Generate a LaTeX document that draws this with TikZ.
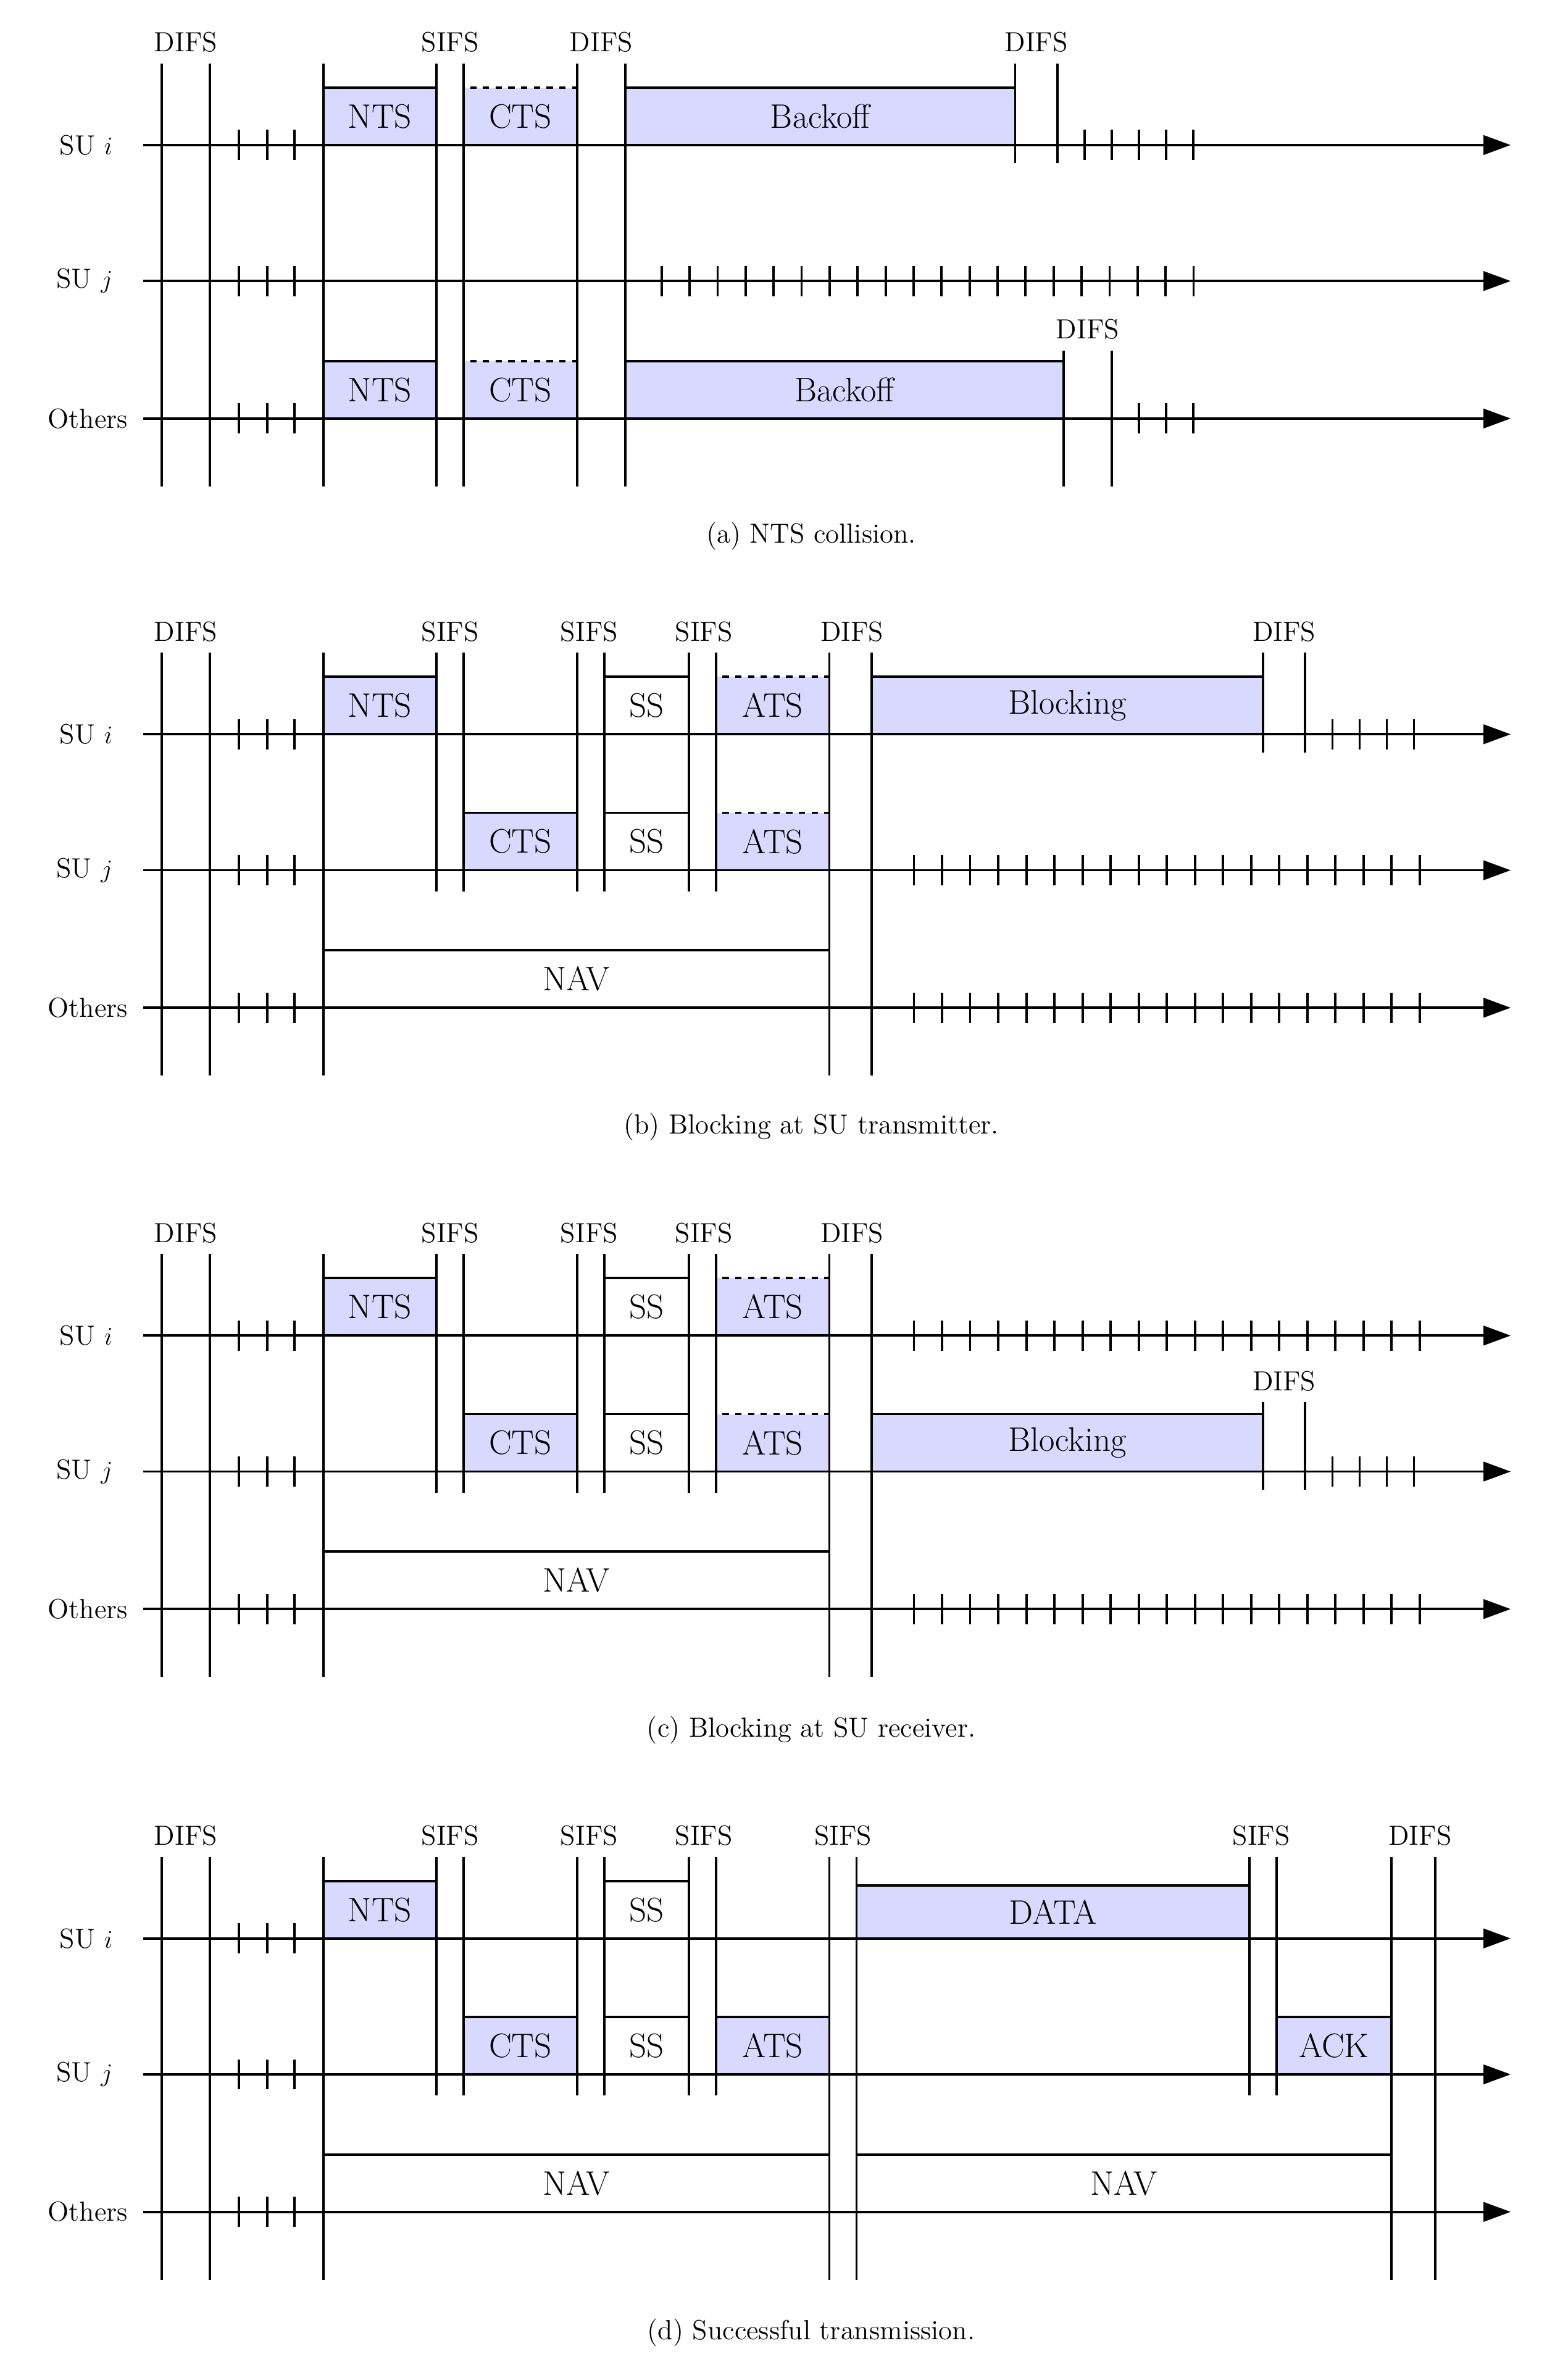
\documentclass[tikz,border=0pt]{standalone}
\usetikzlibrary{arrows.meta}
\definecolor{boxfill}{RGB}{217,217,255}
\begin{document}
\begin{tikzpicture}[x=0.025cm,y=-0.025cm,line width=1.1pt,
  ax/.style={-{Triangle[length=0.45cm,width=0.32cm]}},
  lab/.style={font=\fontsize{13}{15}\selectfont},
  capt/.style={font=\fontsize{13}{15}\selectfont},
  tx/.style={font=\fontsize{16}{18}\selectfont},
  fb/.style={draw,fill=boxfill},
  db/.style={draw,dashed,fill=boxfill},
  wb/.style={draw,fill=white}]
\useasboundingbox (0,0) rectangle (1024,1575.3);
\newcommand{\axes}{%
  \node[lab,anchor=east] (li) at (80,96) {SU $i$};
  \node[lab,anchor=east] (lj) at (80,186) {SU $j$};
  \node[lab,anchor=east] (lo) at (90,277) {Others};
  \draw[ax] (li.east) ++(15,0) coordinate (si) -- (1000,96);
  \draw[ax] (lj.east) ++(15,0) coordinate (sj) -- (1000,186);
  \draw[ax] (lo.east) ++(5,0) coordinate (so) -- (1000,277);
  \foreach \y in {96,186,277}{\foreach \t in {158,177,195}{\draw (\t,\y-10)--(\t,\y+10);}}
}
% ---------------- (a)
\begin{scope}
\draw[fb] (214,96) rectangle node[tx]{NTS} (289,58);
\draw[db] (307,96) rectangle node[tx]{CTS} (382,58);
\draw[fb] (414,96) rectangle node[tx]{Backoff} (672,58);
\draw[fb] (214,277) rectangle node[tx]{NTS} (289,239);
\draw[db] (307,277) rectangle node[tx]{CTS} (382,239);
\draw[fb] (414,277) rectangle node[tx]{Backoff} (704,239);
\axes
\foreach \x in {107,139,214,289,307,382,414}{\draw (\x,42)--(\x,322);}
\foreach \x in {672,700}{\draw (\x,42)--(\x,108);}
\foreach \x in {704,736}{\draw (\x,232)--(\x,322);}
\foreach \t in {718,736,754,772,790}{\draw (\t,86)--(\t,106);}
\foreach \i in {0,...,19}{\draw ({438+\i*18.53},176)--({438+\i*18.53},196);}
\foreach \t in {754,772,790}{\draw (\t,267)--(\t,287);}
\node[lab] (d1) at (123,28) {DIFS};
\node[lab] (s1) at (298,28) {SIFS};
\node[lab] (d2) at (398,28) {DIFS};
\node[lab] (d3) at (686,28) {DIFS};
\node[lab] (d4) at (720,218) {DIFS};
\node[capt] (ca) at (537,355) {(a) NTS collision.};
\end{scope}
% ---------------- (b) and (c)
\foreach \off/\p in {390/b,788/c}{
\begin{scope}[yshift=-\off*0.025cm]
\draw[fb] (214,96) rectangle node[tx]{NTS} (289,58);
\draw[wb] (400,96) rectangle node[tx]{SS} (456,58);
\draw[db] (474,96) rectangle node[tx]{ATS} (549,58);
\draw[fb] (307,186) rectangle node[tx]{CTS} (382,148);
\draw[wb] (400,186) rectangle node[tx]{SS} (456,148);
\draw[db] (474,186) rectangle node[tx]{ATS} (549,148);
\draw[wb] (214,277) rectangle node[tx]{NAV} (549,239);
\if\p b
  \draw[fb] (577,96) rectangle node[tx]{Blocking} (836,58);
\else
  \draw[fb] (577,186) rectangle node[tx]{Blocking} (836,148);
\fi
\axes
\foreach \x in {107,139,214,549,577}{\draw (\x,42)--(\x,322);}
\foreach \x in {289,307,382,400,456,474}{\draw (\x,42)--(\x,200);}
\foreach \i in {0,...,18}{\draw ({605+\i*18.6},267)--({605+\i*18.6},287);}
\node[lab] at (123,28) {DIFS};
\node[lab] at (298,28) {SIFS};
\node[lab] at (390,28) {SIFS};
\node[lab] at (466,28) {SIFS};
\node[lab] at (564,28) {DIFS};
\if\p b
  \foreach \x in {836,864}{\draw (\x,42)--(\x,108);}
  \foreach \t in {882,900,918,936}{\draw (\t,86)--(\t,106);}
  \foreach \i in {0,...,18}{\draw ({605+\i*18.6},176)--({605+\i*18.6},196);}
  \node[lab] at (850,28) {DIFS};
  \node[capt] at (537,356) {(b) Blocking at SU transmitter.};
\else
  \foreach \x in {836,864}{\draw (\x,140)--(\x,198);}
  \foreach \t in {882,900,918,936}{\draw (\t,176)--(\t,196);}
  \foreach \i in {0,...,18}{\draw ({605+\i*18.6},86)--({605+\i*18.6},106);}
  \node[lab] at (850,126) {DIFS};
  \node[capt] at (537,357) {(c) Blocking at SU receiver.};
\fi
\end{scope}}
% ---------------- (d)
\begin{scope}[yshift=-1187*0.025cm]
\draw[fb] (214,96) rectangle node[tx]{NTS} (289,58);
\draw[wb] (400,96) rectangle node[tx]{SS} (456,58);
\draw[fb] (567,96) rectangle node[tx]{DATA} (827,61);
\draw[fb] (307,186) rectangle node[tx]{CTS} (382,148);
\draw[wb] (400,186) rectangle node[tx]{SS} (456,148);
\draw[fb] (474,186) rectangle node[tx]{ATS} (549,148);
\draw[fb] (845,186) rectangle node[tx]{ACK} (921,148);
\draw[wb] (214,277) rectangle node[tx]{NAV} (549,239);
\draw[wb] (567,277) rectangle node[tx]{NAV} (921,239);
\axes
\foreach \x in {107,139,214,549,567,921,950}{\draw (\x,42)--(\x,322);}
\foreach \x in {289,307,382,400,456,474,827,845}{\draw (\x,42)--(\x,200);}
\node[lab] at (123,28) {DIFS};
\node[lab] at (298,28) {SIFS};
\node[lab] at (390,28) {SIFS};
\node[lab] at (466,28) {SIFS};
\node[lab] at (558,28) {SIFS};
\node[lab] at (835,28) {SIFS};
\node[lab] at (940,28) {DIFS};
\node[capt] at (537,357) {(d) Successful transmission.};
\end{scope}
\end{tikzpicture}
\end{document}
